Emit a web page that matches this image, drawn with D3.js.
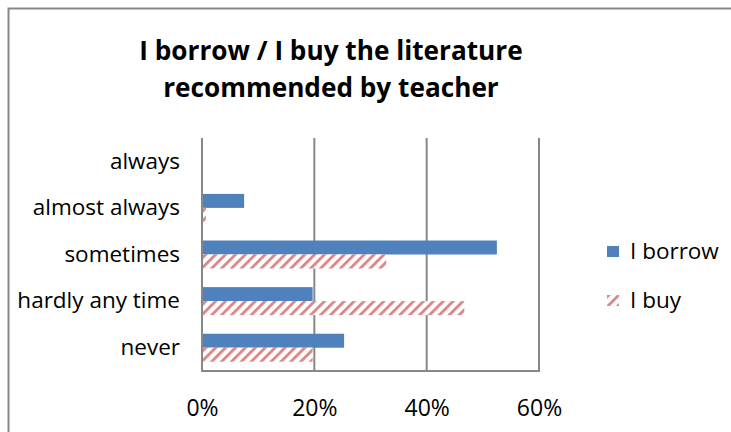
<!DOCTYPE html>
<html>
<head>
<meta charset="utf-8">
<script src="https://cdn.jsdelivr.net/npm/d3@7"></script>
<style>
  html, body { margin: 0; padding: 0; background: #fff; }
  svg { display: block; }
  text { font-family: "Open Sans", "Liberation Sans", sans-serif; fill: #000; }
</style>
</head>
<body>
<svg id="chart" width="731" height="432"></svg>
<script>
// ---- data ----
const titleLines = ["I borrow / I buy the literature", "recommended by teacher"];
const categories = ["always", "almost always", "sometimes", "hardly any time", "never"];
const seriesNames = ["I borrow", "I buy"];
const borrowValues = [0, 7.5, 52.5, 19.7, 25.3];
const buyValues = [0, 0.7, 32.8, 46.7, 19.7];
const tickValues = [0, 20, 40, 60];
const tickLabels = ["0%", "20%", "40%", "60%"];

const svg = d3.select("#chart");
const W = 731, H = 432;
const plot = { left: 202, right: 539, top: 138, bottom: 371 };
const gridColor = "#878787";
const borrowColor = "#4F81BD";
const buyColor = "#D98585";

// hatch pattern
const defs = svg.append("defs");
const pat = defs.append("pattern")
  .attr("id", "hatch")
  .attr("patternUnits", "userSpaceOnUse")
  .attr("width", 7).attr("height", 7)
  .attr("patternTransform", "rotate(45)");
pat.append("rect").attr("width", 7).attr("height", 7).attr("fill", "#fff");
pat.append("rect").attr("x", 0).attr("y", 0).attr("width", 2.8).attr("height", 7).attr("fill", buyColor);

// outer border
svg.append("rect")
  .attr("x", 8.5).attr("y", 8.5)
  .attr("width", W + 20).attr("height", H + 20)
  .attr("fill", "#fff")
  .attr("stroke", gridColor).attr("stroke-width", 2);

// title
const title = svg.append("text")
  .attr("text-anchor", "middle")
  .attr("font-weight", "bold")
  .attr("font-size", 26.2);
titleLines.forEach((t, i) => {
  title.append("tspan").attr("x", 331).attr("y", 60 + i * 37).text(t);
});

// scales
const x = d3.scaleLinear().domain([0, 60]).range([plot.left, plot.right]);
const y = d3.scaleBand().domain(categories).range([plot.top, plot.bottom])
  .paddingInner(0.4).paddingOuter(0.2);
const ySub = d3.scaleBand().domain(seriesNames).range([0, y.bandwidth()]);

// gridlines
svg.append("g").selectAll("line")
  .data(tickValues.slice(1))
  .join("line")
  .attr("x1", d => x(d)).attr("x2", d => x(d))
  .attr("y1", plot.top).attr("y2", plot.bottom)
  .attr("stroke", gridColor).attr("stroke-width", 2);

// bars
const rows = categories.map((c, i) => ({ cat: c, vals: [borrowValues[i], buyValues[i]] }));
const groups = svg.append("g").selectAll("g")
  .data(rows).join("g")
  .attr("transform", d => `translate(0,${y(d.cat)})`);
groups.selectAll("rect")
  .data(d => d.vals.map((v, j) => ({ s: seriesNames[j], v })))
  .join("rect")
  .attr("x", x(0))
  .attr("y", d => ySub(d.s))
  .attr("width", d => x(d.v) - x(0))
  .attr("height", ySub.bandwidth())
  .attr("fill", d => d.s === "I borrow" ? borrowColor : "url(#hatch)");

// axes lines (left + bottom)
svg.append("line")
  .attr("x1", x(0)).attr("x2", x(0)).attr("y1", plot.top).attr("y2", plot.bottom)
  .attr("stroke", gridColor).attr("stroke-width", 2);
svg.append("line")
  .attr("x1", x(0) - 1).attr("x2", plot.right + 1).attr("y1", plot.bottom).attr("y2", plot.bottom)
  .attr("stroke", gridColor).attr("stroke-width", 2);

// x tick labels via axis
const xAxis = d3.axisBottom(x).tickValues(tickValues)
  .tickFormat((d, i) => tickLabels[i]).tickSize(0).tickPadding(0);
const gx = svg.append("g").attr("transform", `translate(0,${plot.bottom})`).call(xAxis);
gx.select(".domain").remove();
gx.selectAll("text")
  .attr("font-family", "\"Open Sans\", sans-serif")
  .attr("font-size", 23).attr("fill", "#000")
  .attr("dy", null).attr("y", 45);

// y category labels via axis
const yAxis = d3.axisLeft(y).tickSize(0).tickPadding(0);
const gy = svg.append("g").attr("transform", `translate(180,0)`).call(yAxis);
gy.select(".domain").remove();
gy.selectAll("text")
  .attr("font-family", "\"Open Sans\", sans-serif")
  .attr("font-size", 22.5).attr("fill", "#000")
  .attr("x", 0);

// legend
const legend = svg.append("g").selectAll("g")
  .data(seriesNames).join("g")
  .attr("transform", (d, i) => `translate(607,${246 + i * 49})`);
legend.append("rect")
  .attr("width", 12).attr("height", 11)
  .attr("fill", d => d === "I borrow" ? borrowColor : "url(#hatch)");
legend.append("text")
  .attr("x", 23).attr("y", 5.5).attr("dy", "0.35em")
  .attr("font-size", 22.5)
  .text(d => d);
</script>
</body>
</html>
